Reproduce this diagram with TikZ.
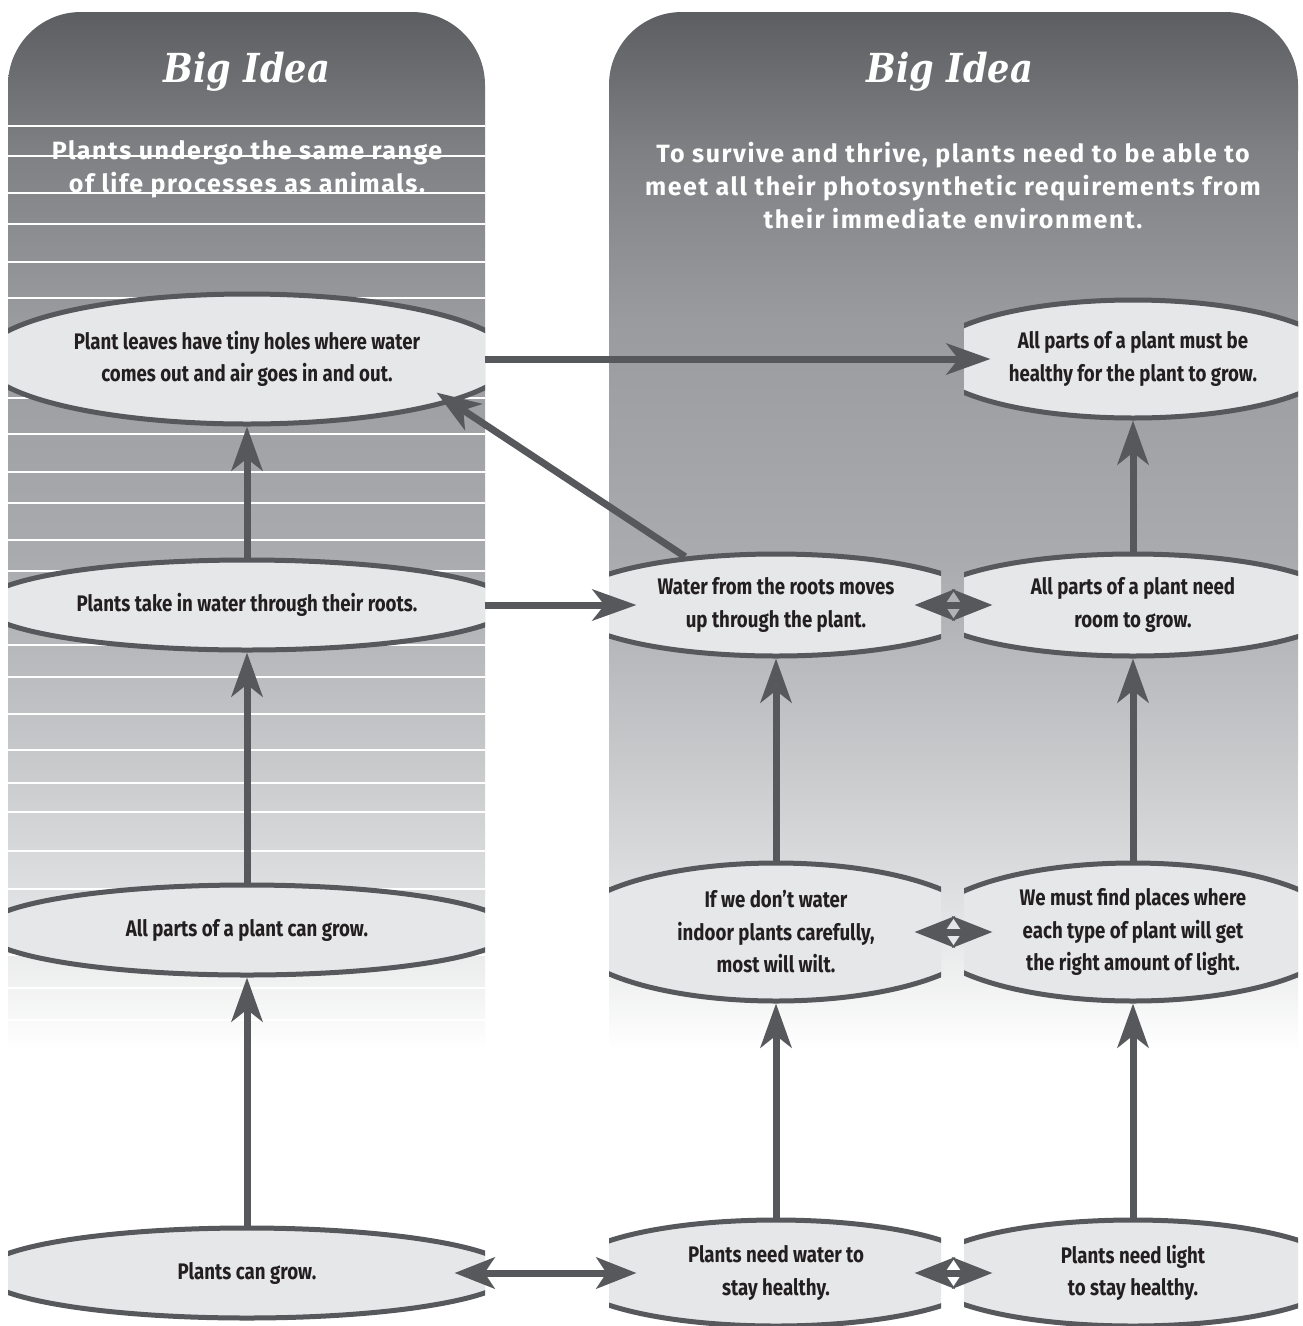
\documentclass[tikz,border=0pt]{standalone}
\usepackage{fontspec}
\usetikzlibrary{shapes.geometric,arrows.meta}
\setmainfont{Fira Sans}
\newfontfamily\ellfont[FakeStretch=0.83]{Fira Sans}
\newfontfamily\headfont[LetterSpace=6.2]{Fira Sans}
\newfontfamily\bigfont[FakeStretch=0.88]{DejaVu Serif}
\definecolor{acol}{HTML}{57585B}
\definecolor{efill}{HTML}{E6E7E8}
\definecolor{tcol}{HTML}{231F20}
\definecolor{g0}{HTML}{5C5D60}
\definecolor{g1}{HTML}{7F8083}
\definecolor{g2}{HTML}{9A9B9E}
\definecolor{g3}{HTML}{AAABAE}
\definecolor{g4}{HTML}{C8C9CB}
\definecolor{g5}{HTML}{E3E4E5}
\tikzset{
 ell/.style={ellipse, draw=acol, fill=efill, line width=5pt, inner sep=0pt, align=center, text=tcol,
   font=\ellfont\bfseries\fontsize{22.5}{32.5}\selectfont},
 arr/.style={draw=acol, line width=7pt, -{Stealth[length=44pt,width=31pt,inset=12pt]}},
 darr/.style={draw=acol, line width=7pt, {Stealth[length=40pt,width=31pt,inset=10pt]}-{Stealth[length=40pt,width=31pt,inset=10pt]}},
 bigidea/.style={text=white, anchor=base, font=\bigfont\bfseries\itshape\fontsize{40}{48}\selectfont},
 headtxt/.style={text=white, align=center, font=\headfont\bfseries\fontsize{25}{33}\selectfont},
 stripe/.style={draw=white, line width=1.3pt},
}
\begin{document}
\begin{tikzpicture}[x=1pt,y=-1pt]
\useasboundingbox (0,0) rectangle (1302,1326);
\fill[white] (0,0) rectangle (1302,1326);
% panels with gradient
\begin{scope}
\clip (8,1050) -- (8,85) arc[start angle=180,end angle=270,radius=73] -- (412,12)
      arc[start angle=270,end angle=360,radius=73] -- (485,1050) -- cycle
      (609,1050) -- (609,85) arc[start angle=180,end angle=270,radius=73] -- (1225,12)
      arc[start angle=270,end angle=360,radius=73] -- (1298,1050) -- cycle;
\shade[top color=g0,bottom color=g1] (0,8) rectangle (1302,150.5);
\shade[top color=g1,bottom color=g2] (0,150) rectangle (1302,320.5);
\shade[top color=g2,bottom color=g3] (0,320) rectangle (1302,560.5);
\shade[top color=g3,bottom color=g4] (0,560) rectangle (1302,760.5);
\shade[top color=g4,bottom color=g5] (0,760) rectangle (1302,920.5);
\shade[top color=g5,bottom color=white] (0,920) rectangle (1302,1050);
\end{scope}
% stripes on left panel
\begin{scope}
\clip (8,1050) -- (8,85) arc[start angle=180,end angle=270,radius=73] -- (412,12)
      arc[start angle=270,end angle=360,radius=73] -- (485,1050) -- cycle;
\foreach \yy in {126,156,193,224,262,298,333,363,398,434,472,503,540,571,608,645,677,714,750,783,812,851,889,925,955,988,1020}
  \draw[stripe] (8,\yy) -- (485,\yy);
\end{scope}
% titles
\node[bigidea] (bi1) at (247,82) {Big Idea};
\node[bigidea] (bi2) at (950,82) {Big Idea};
\node[headtxt] (h1) at (247,169) {Plants undergo the same range\\of life processes as animals.};
\node[headtxt] (h2) at (953,186) {To survive and thrive, plants need to be able to\\meet all their photosynthetic requirements from\\their immediate environment.};
% left column ellipses
\begin{scope}
\clip (8,0) rectangle (485,1326);
\node[ell, minimum width=530, minimum height=130] (L1) at (247,359) {Plant leaves have tiny holes where water\\comes out and air goes in and out.};
\node[ell, minimum width=530, minimum height=90] (L2) at (247,605) {Plants take in water through their roots.};
\node[ell, minimum width=530, minimum height=90] (L3) at (247,930) {All parts of a plant can grow.};
\node[ell, minimum width=530, minimum height=90] (L4) at (247,1273) {Plants can grow.};
\end{scope}
% column A ellipses
\begin{scope}
\clip (609,0) rectangle (941,1326);
\node[ell, minimum width=420, minimum height=102] (A1) at (776,605) {Water from the roots moves\\up through the plant.};
\node[ell, minimum width=420, minimum height=138] (A2) at (776,932) {If we don’t water\\indoor plants carefully,\\most will wilt.};
\node[ell, minimum width=420, minimum height=106] (A3) at (776,1273) {Plants need water to\\stay healthy.};
\end{scope}
% column B ellipses
\begin{scope}
\clip (964,0) rectangle (1298,1326);
\node[ell, minimum width=410, minimum height=118] (B0) at (1133,359) {All parts of a plant must be\\healthy for the plant to grow.};
\node[ell, minimum width=420, minimum height=102] (B1) at (1133,605) {All parts of a plant need\\room to grow.};
\node[ell, minimum width=420, minimum height=138] (B2) at (1133,932) {We must find places where\\each type of plant will get\\the right amount of light.};
\node[ell, minimum width=420, minimum height=106] (B3) at (1133,1273) {Plants need light\\to stay healthy.};
\end{scope}
% arrows
\draw[arr] (L2.north) -- (L1.south);
\draw[arr] (L3.north) -- (L2.south);
\draw[arr] (L4.north) -- (L3.south);
\draw[arr] (A3.north) -- (A2.south);
\draw[arr] (A2.north) -- (A1.south);
\draw[arr] (B3.north) -- (B2.south);
\draw[arr] (B2.north) -- (B1.south);
\draw[arr] (B1.north) -- (B0.south);
\draw[arr] ([xshift=-30pt]L1.east) -- ([xshift=65pt]B0.west);
\draw[arr] ([xshift=-30pt]L2.east) -- ([xshift=73pt]A1.west);
\draw[arr, shorten >=-18pt] (A1.152) -- (L1.-12);
\draw[darr] ([xshift=-60pt]L4.east) -- ([xshift=73pt]A3.west);
\draw[darr] ([xshift=-74pt]A1.east) -- ([xshift=72pt]B1.west);
\draw[darr] ([xshift=-74pt]A2.east) -- ([xshift=72pt]B2.west);
\draw[darr] ([xshift=-74pt]A3.east) -- ([xshift=72pt]B3.west);
\end{tikzpicture}
\end{document}
